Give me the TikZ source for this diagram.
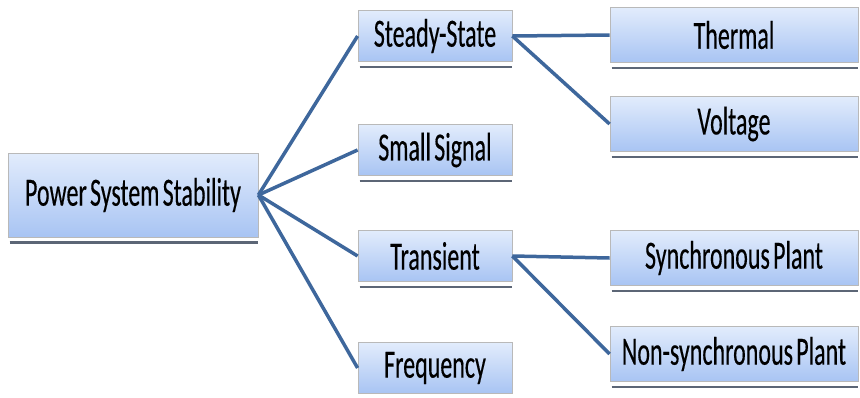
\documentclass[tikz,border=0pt]{standalone}
\usepackage{fontspec}
\setmainfont[FakeStretch=0.6, WordSpace=0.6, FakeBold=0.3]{Carlito}

\definecolor{boxtop}{RGB}{226,236,252}
\definecolor{boxbot}{RGB}{168,196,243}
\definecolor{linkblue}{RGB}{62,103,156}
\definecolor{shadegray}{RGB}{92,102,118}

\tikzset{
  box/.style={draw=gray!55, line width=0.8pt, top color=boxtop, bottom color=boxbot,
    inner sep=0pt, font=\fontsize{40}{42}\selectfont},
  midbox/.style={box, minimum width=154pt, minimum height=51pt},
  leafbox/.style={box, minimum width=248pt, minimum height=55pt},
  link/.style={linkblue, line width=3.5pt},
  boxshade/.style={shadegray, line width=2.6pt}
}

\begin{document}
\begin{tikzpicture}[x=1pt,y=-1pt]
  \useasboundingbox (0,0) rectangle (860,397);
  \node[box, minimum width=250pt, minimum height=84pt] (pss) at (133,195) {Power System Stability};
  % second level
  \foreach \n/\y/\t in {ss/36/Steady-State, sm/150/Small Signal, tr/256/Transient, fq/368/Frequency}
  {
    \node[midbox] (\n) at (435,\y) {\t};
    \draw[link] (pss.east) -- (\n.west);
  }
  % third level
  \foreach \n/\y/\t in {th/35/Thermal, vo/124/Voltage, sy/258/Synchronous Plant, ns/354/Non-synchronous Plant}
    \node[leafbox] (\n) at (734,\y) {\t};
  \foreach \a/\b in {ss/th, ss/vo, tr/sy, tr/ns}
    \draw[link] (\a.east) -- (\b.west);
  % shadows under the boxes
  \foreach \n in {pss,ss,sm,tr,fq,th,vo,sy,ns}
    \draw[boxshade] ([xshift=2pt,yshift=-5pt]\n.south west) -- ([yshift=-5pt]\n.south east);
\end{tikzpicture}
\end{document}
